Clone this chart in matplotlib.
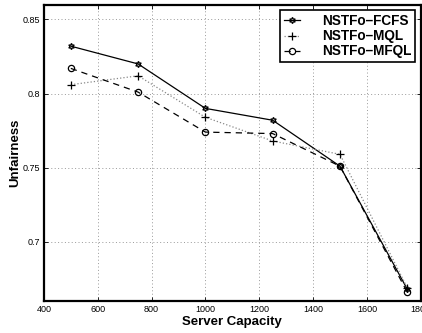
import matplotlib.pyplot as plt
import matplotlib

matplotlib.rcParams['font.family'] = ['Liberation Sans', 'DejaVu Sans']

# Unfairness per server capacity for each scheduling policy
capacity = [500, 750, 1000, 1250, 1500, 1750]
fcfs = [0.832, 0.820, 0.790, 0.782, 0.751, 0.668]
mql = [0.806, 0.812, 0.784, 0.768, 0.759, 0.669]
mfql = [0.817, 0.801, 0.774, 0.773, 0.751, 0.666]

xticks = [400, 600, 800, 1000, 1200, 1400, 1600, 1800]
yticks = [0.7, 0.75, 0.8, 0.85]
ytick_labels = ['0.7', '0.75', '0.8', '0.85']

fig = plt.figure(figsize=(4.22, 3.33), dpi=100)
ax = fig.add_axes([0.104, 0.096, 0.893, 0.89])

ax.plot(capacity, fcfs, color='black', linestyle='-', linewidth=0.9,
        marker=(6, 1, 0), markersize=4.5, markerfacecolor='none',
        markeredgecolor='black', markeredgewidth=0.9, label='NSTFo\u2013FCFS')
ax.plot(capacity, mql, color='#888888', linestyle=':', linewidth=0.9,
        marker='+', markersize=5.5, markeredgecolor='black',
        markeredgewidth=0.9, label='NSTFo\u2013MQL')
ax.plot(capacity, mfql, color='black', linestyle=(0, (5, 4)), linewidth=0.9,
        marker='o', markersize=4.5, markerfacecolor='none',
        markeredgecolor='black', markeredgewidth=0.9, label='NSTFo\u2013MFQL')

ax.set_xlim(400, 1800)
ax.set_ylim(0.66, 0.86)
ax.set_xticks(xticks)
ax.set_yticks(yticks)
ax.set_yticklabels(ytick_labels)
ax.tick_params(direction='in', length=3, width=0.6, labelsize=6.5,
               top=True, right=True, pad=3)
ax.grid(True, linestyle=(0, (1, 2.5)), color='#999999', linewidth=0.7)

for side in ['left', 'bottom', 'top', 'right']:
    ax.spines[side].set_linewidth(1.6)

ax.set_xlabel('Server Capacity', fontsize=9.5, fontweight='bold')
ax.set_ylabel('Unfairness', fontsize=9.5, fontweight='bold')
ax.xaxis.set_label_coords(0.5, -0.05)
ax.yaxis.set_label_coords(-0.061, 0.5)

leg = ax.legend(loc='upper right', prop={'weight': 'bold', 'size': 9.8},
                handlelength=1.2, handletextpad=1.6, borderaxespad=0.4,
                labelspacing=0.08, fancybox=False, framealpha=1,
                edgecolor='black', borderpad=0.3)
leg.get_frame().set_linewidth(1.2)

fig.savefig('out.png', dpi=100)
